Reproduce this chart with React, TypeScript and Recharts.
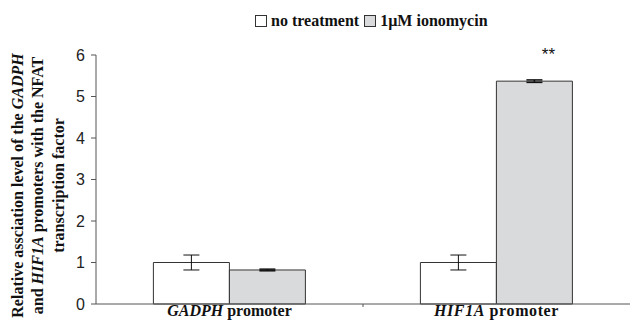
import React from "react";
import { BarChart, Bar, XAxis, YAxis, ErrorBar, LabelList } from "recharts";

const genes = ["GADPH", "HIF1A"];
const noTreatment = [1.0, 1.0];
const noTreatmentErr = [0.18, 0.18];
const ionomycin = [0.82, 5.37];
const ionomycinErr = [0.02, 0.03];
const significance = ["", "**"];
const yTicks = [0, 1, 2, 3, 4, 5, 6];
const legendLabels = ["no treatment", "1\u00b5M ionomycin"];

const data = genes.map((g, i) => ({
  gene: g,
  none: noTreatment[i],
  noneErr: noTreatmentErr[i],
  iono: ionomycin[i],
  ionoErr: ionomycinErr[i],
  sig: significance[i],
}));

const SERIF = "'Liberation Serif', 'DejaVu Serif', serif";
const SANS = "'Liberation Sans', Arial, sans-serif";

const XTick = (props: any) => {
  const { x, y, payload, index, width, visibleTicksCount } = props;
  const isFirst = payload.value === "GADPH";
  const n = visibleTicksCount || genes.length;
  const half = typeof width === "number" && width > 0 ? width / (2 * n) : 0;
  const axisY = y - 8;
  return (
    <g>
      {index === 0 && half > 0 ? (
        <line x1={x + half} x2={x + half} y1={axisY} y2={axisY + 3} stroke="#555" strokeWidth={1} />
      ) : null}
      <text
        x={x}
        y={y + 4}
        textAnchor="middle"
        fontFamily={SERIF}
        fontWeight="bold"
        fontSize={16}
        fill="#111"
        letterSpacing={isFirst ? 0 : 0.6}
      >
        <tspan fontStyle="italic">{payload.value}</tspan>
        <tspan>{" promoter"}</tspan>
      </text>
    </g>
  );
};

const YLabel = (props: any) => {
  const vb = props.viewBox || {};
  const cy = vb.y + vb.height / 2 + 6;
  const lines: any[] = [
    [["Relative assciation level of the  ", false], ["GADPH", true]],
    [["and ", false], ["HIF1A", true], [" promoters with the NFAT", false]],
    [["transcription factor", false]],
  ];
  const xs = [23, 43, 64];
  return (
    <g>
      {lines.map((ln, i) => (
        <text
          key={i}
          x={xs[i]}
          y={cy}
          transform={`rotate(-90, ${xs[i]}, ${cy})`}
          textAnchor="middle"
          fontFamily={SERIF}
          fontWeight="bold"
          fontSize={16}
          fill="#111"
        >
          {ln.map((seg: any, j: number) => (
            <tspan key={j} fontStyle={seg[1] ? "italic" : "normal"}>
              {seg[0]}
            </tspan>
          ))}
        </text>
      ))}
    </g>
  );
};

const LegendBox = () => (
  <div
    style={{
      position: "absolute",
      left: 255,
      top: 12,
      display: "flex",
      alignItems: "center",
      fontFamily: SERIF,
      fontWeight: "bold",
      fontSize: 16,
      color: "#111",
      whiteSpace: "nowrap",
      lineHeight: "18px",
    }}
  >
    {legendLabels.map((l, i) => (
      <span key={i} style={{ display: "inline-flex", alignItems: "center", marginRight: 5 }}>
        <span
          style={{
            display: "inline-block",
            width: 12,
            height: 12,
            border: "1px solid #333",
            background: i === 0 ? "#fff" : "#d9dadb",
            marginRight: 4,
            boxSizing: "border-box",
          }}
        />
        {l}
      </span>
    ))}
  </div>
);

const SigLabel = (props: any) => {
  const { x, y, width, value } = props;
  if (!value) return null;
  return (
    <text x={x + width / 2 + 14} y={y - 21} textAnchor="middle" fontFamily={SANS} fontSize={17} fill="#111">
      {value}
    </text>
  );
};

export default function App() {
  return (
    <div style={{ position: "absolute", left: 0, top: 0, width: 639, height: 324, background: "#fff" }}>
      <BarChart
        width={639}
        height={324}
        data={data}
        margin={{ top: 55, right: 9, bottom: 0, left: 0 }}
        barGap={0}
        barCategoryGap="21.5%"
      >
        <XAxis
          dataKey="gene"
          height={20}
          stroke="#555"
          tickLine={false}
          tick={<XTick />}
          interval={0}
        />
        <YAxis
          width={96}
          domain={[0, 6]}
          ticks={yTicks}
          stroke="#555"
          tickSize={5}
          tickMargin={6}
          tick={{ fontFamily: SANS, fontSize: 16, fill: "#222" }}
          label={<YLabel />}
        />
        <Bar dataKey="none" fill="#ffffff" stroke="#333" strokeWidth={1} isAnimationActive={false}>
          <ErrorBar dataKey="noneErr" width={8} stroke="#111" strokeWidth={1} />
        </Bar>
        <Bar dataKey="iono" fill="#d9dadb" stroke="#333" strokeWidth={1} isAnimationActive={false}>
          <ErrorBar dataKey="ionoErr" width={8} stroke="#111" strokeWidth={1.5} />
          <LabelList dataKey="sig" content={<SigLabel />} />
        </Bar>
      </BarChart>
      <LegendBox />
    </div>
  );
}
